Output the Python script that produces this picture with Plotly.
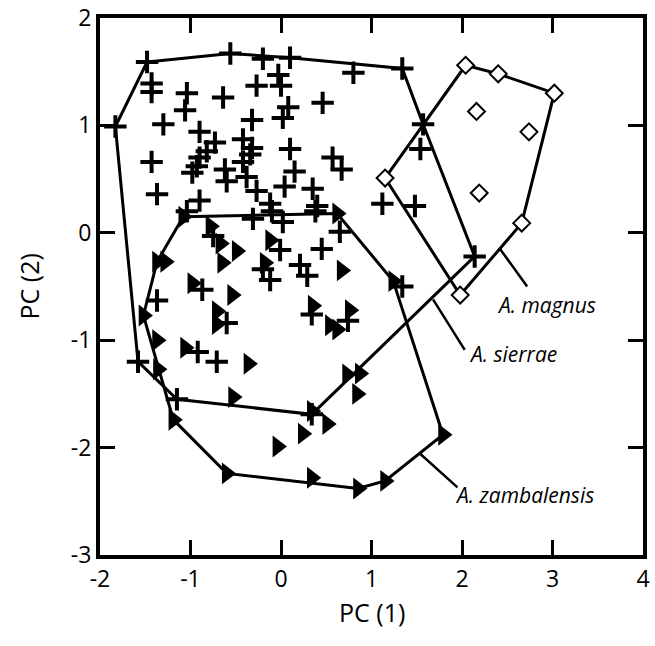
import plotly.graph_objects as go

# ---- data ----
sierrae_x = [-1.48, -0.56, -0.20, 0.10, 0.80, 1.34, -0.03, -1.43, -1.43, -1.04,
             -0.64, -0.27, 0.00, -1.06, 0.02, 0.46, 0.08, -1.83, -1.30, -0.32,
             -0.90, -0.73, -0.82, -0.42, -0.32, -0.34, -1.43, -0.90, -0.93, -0.42,
             0.10, -0.62, -0.98, -0.60, -0.38, -0.27, -0.12, 0.04, -1.37, -0.90,
             -1.04, 1.54, 1.57, 0.57, 0.67, 0.15, 0.35, 1.12, 1.48, 0.40,
             0.38, 0.02, -0.31, -0.10, -0.75, 0.65, 0.45, -0.01, 0.21, 0.29,
             -0.20, -0.12, 1.34, 2.14, -0.87, -1.37, 0.34, 0.74, -0.60, -0.92,
             -0.71, -1.58, -1.15, 0.34]
sierrae_y = [1.59, 1.67, 1.62, 1.63, 1.49, 1.53, 1.47, 1.39, 1.31, 1.30,
             1.26, 1.37, 1.37, 1.14, 1.07, 1.21, 1.17, 0.99, 1.01, 1.05,
             0.94, 0.84, 0.76, 0.87, 0.79, 0.73, 0.66, 0.70, 0.62, 0.66,
             0.78, 0.59, 0.56, 0.48, 0.52, 0.39, 0.27, 0.43, 0.36, 0.30,
             0.20, 0.78, 1.01, 0.70, 0.59, 0.57, 0.41, 0.27, 0.25, 0.25,
             0.20, 0.10, 0.13, 0.20, -0.03, 0.01, -0.15, -0.16, -0.30, -0.40,
             -0.34, -0.44, -0.50, -0.22, -0.53, -0.63, -0.76, -0.82, -0.84, -1.11,
             -1.20, -1.20, -1.55, -1.69]
sierrae_hull = [0, 1, 3, 5, 42, 63, 73, 72, 71, 17, 0]

zamb_x = [-1.08, -0.78, -0.67, -0.49, -0.65, -1.37, -1.28, -0.12, -0.18, -0.98,
          -0.54, -0.71, -0.71, -1.52, -1.37, -1.06, -0.36, -1.36, 0.62, 0.67,
          0.35, 0.76, 0.54, 0.62, 1.24, 0.87, 0.73, 0.84, 0.34, 0.51,
          0.24, -0.04, 0.34, 0.85, 1.15, 1.79, -0.53, -1.19, -0.60]
zamb_y = [0.15, 0.06, -0.10, -0.17, -0.28, -0.27, -0.27, -0.07, -0.28, -0.47,
          -0.58, -0.73, -0.85, -0.77, -1.00, -1.07, -1.22, -1.27, 0.18, -0.35,
          -0.68, -0.72, -0.86, -0.90, -0.45, -1.31, -1.32, -1.50, -1.66, -1.78,
          -1.87, -1.99, -2.28, -2.38, -2.31, -1.88, -1.53, -1.74, -2.24]
zamb_hull = [0, 18, 24, 35, 34, 33, 38, 37, 13, 5, 0]

magnus_x = [1.15, 2.04, 2.40, 3.02, 2.16, 2.74, 2.19, 2.66, 1.98]
magnus_y = [0.51, 1.56, 1.48, 1.30, 1.13, 0.94, 0.37, 0.09, -0.58]
magnus_hull = [0, 1, 2, 3, 7, 8, 0]

# labels and their leader lines
label_names = ["A. magnus", "A. sierrae", "A. zambalensis"]
label_x = [2.36, 2.05, 1.90]
label_y = [-0.67, -1.13, -2.44]
leader_x0 = [2.42, 1.68, 1.54]
leader_y0 = [-0.15, -0.62, -2.06]
leader_x1 = [2.72, 2.03, 1.95]
leader_y1 = [-0.50, -1.09, -2.37]

x_ticks = [-2, -1, 0, 1, 2, 3, 4]
x_tick_labels = ["-2", "-1", "0", "1", "2", "3", "4"]
y_ticks = [-3, -2, -1, 0, 1, 2]
y_tick_labels = ["-3", "-2", "-1", "0", "1", "2"]

x_title = "PC (1)"
y_title = "PC (2)"

FONT = "Open Sans"

fig = go.Figure()


def add_hull(xs, ys, idx):
    fig.add_trace(go.Scatter(
        x=[xs[i] for i in idx], y=[ys[i] for i in idx], mode="lines",
        line=dict(color="black", width=3), hoverinfo="skip", showlegend=False))


add_hull(sierrae_x, sierrae_y, sierrae_hull)
add_hull(zamb_x, zamb_y, zamb_hull)
add_hull(magnus_x, magnus_y, magnus_hull)

for i in range(len(label_names)):
    fig.add_trace(go.Scatter(
        x=[leader_x0[i], leader_x1[i]], y=[leader_y0[i], leader_y1[i]],
        mode="lines", line=dict(color="black", width=2.5),
        hoverinfo="skip", showlegend=False))

fig.add_trace(go.Scatter(
    x=sierrae_x, y=sierrae_y, mode="markers", name="A. sierrae",
    marker=dict(symbol="cross-thin", size=16, line=dict(color="black", width=4)),
    showlegend=False))
fig.add_trace(go.Scatter(
    x=zamb_x, y=zamb_y, mode="markers", name="A. zambalensis",
    marker=dict(symbol="triangle-right", size=19, color="black"),
    showlegend=False))
fig.add_trace(go.Scatter(
    x=magnus_x, y=magnus_y, mode="markers", name="A. magnus",
    marker=dict(symbol="diamond", size=13, color="white",
                line=dict(color="black", width=2)),
    showlegend=False))

for i, name in enumerate(label_names):
    fig.add_annotation(x=label_x[i], y=label_y[i], text="<i>" + name + "</i>",
                       showarrow=False, xanchor="left", yanchor="middle",
                       font=dict(family=FONT, size=21, color="black"))

# axis titles
fig.add_annotation(x=0.5, y=0, xref="paper", yref="paper", text=x_title,
                   showarrow=False, xanchor="center", yanchor="middle", yshift=-57,
                   font=dict(family=FONT, size=25, color="black"))
fig.add_annotation(x=0, y=0.5, xref="paper", yref="paper", text=y_title,
                   showarrow=False, xanchor="center", yanchor="middle", xshift=-72,
                   textangle=-90, font=dict(family=FONT, size=25, color="black"))

axis_common = dict(
    ticks="inside", ticklen=15, tickwidth=3, tickcolor="black",
    showline=True, linewidth=4, linecolor="black", mirror="allticks",
    showgrid=False, zeroline=False, ticklabeloverflow="allow", automargin=False,
    tickfont=dict(family=FONT, size=23, color="black"),
)

fig.update_layout(
    width=655, height=646,
    margin=dict(l=100, r=12, t=18, b=91, autoexpand=False),
    paper_bgcolor="white", plot_bgcolor="white",
    xaxis=dict(range=[-2, 4], tickvals=x_ticks, ticktext=x_tick_labels,
               **axis_common),
    yaxis=dict(range=[-3, 2], tickvals=y_ticks, ticktext=y_tick_labels,
               **axis_common),
)

fig.write_html("out.html")
